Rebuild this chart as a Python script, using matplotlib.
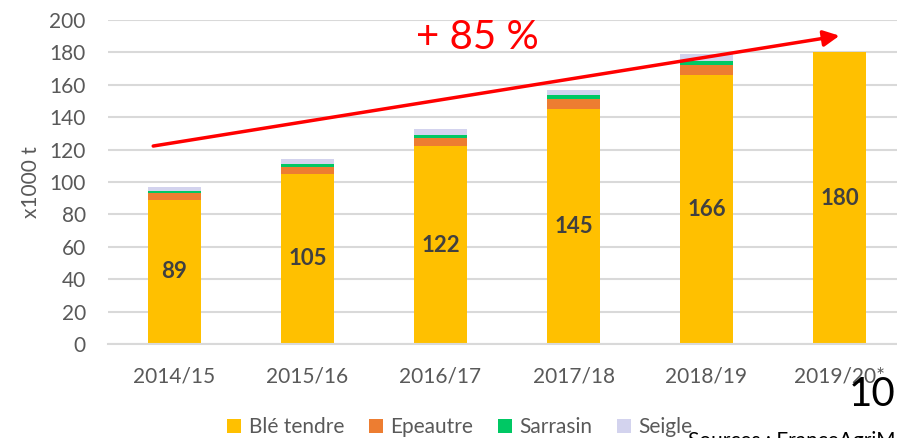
import numpy as np
import matplotlib.pyplot as plt

campagnes = ['2014/15', '2015/16', '2016/17', '2017/18', '2018/19', '2019/20*']
ble_tendre = [89, 105, 122, 145, 166, 180]
epeautre = [4, 4, 5, 6, 6, 0]
sarrasin = [1.5, 2, 2, 2.5, 2.7, 0]
seigle = [2.5, 3.5, 3.5, 3, 4.3, 0]

series = [
    ('Blé tendre', ble_tendre, '#FFC000'),
    ('Epeautre', epeautre, '#ED7D31'),
    ('Sarrasin', sarrasin, '#00C864'),
    ('Seigle', seigle, '#D3D3EE'),
]

plt.rcParams['font.family'] = ['Lato', 'DejaVu Sans']

fig = plt.figure(figsize=(8.97, 4.38), dpi=100)
ax = fig.add_axes([108 / 897, 94 / 438, 798 / 897, 324 / 438])

x = np.arange(len(campagnes))
bottom = np.zeros(len(campagnes))
for nom, vals, couleur in series:
    vals = np.array(vals, dtype=float)
    ax.bar(x, vals, 0.4, bottom=bottom, color=couleur, label=nom, zorder=2)
    bottom += vals

for xi, v in zip(x, ble_tendre):
    ax.text(xi, v / 2, str(v), ha='center', va='center', fontsize=16,
            fontweight='bold', color='#404040', zorder=3)

ax.set_xlim(-0.5, 5.5)
ax.set_ylim(0, 200)
ax.set_yticks(range(0, 201, 20))
ax.set_xticks(x)
ax.set_xticklabels(campagnes)
ax.tick_params(axis='both', length=0, labelsize=15, labelcolor='#595959')
ax.tick_params(axis='x', pad=16)
ax.tick_params(axis='y', pad=16)
ax.grid(axis='y', color='#D9D9D9', linewidth=1.5, zorder=0)
ax.set_axisbelow(True)
for s in ['top', 'right', 'left']:
    ax.spines[s].set_visible(False)
ax.spines['bottom'].set_color('#D9D9D9')
ax.spines['bottom'].set_linewidth(1.5)
ax.set_ylabel('x1000 t', fontsize=15, color='#595959', labelpad=6)

# fleche de tendance
ax.annotate('', xy=(5.0, 190.3), xytext=(-0.16, 122.2),
            arrowprops=dict(arrowstyle='-|>', color='#FF0000', lw=2.5,
                            mutation_scale=24, shrinkA=0, shrinkB=0),
            zorder=4)
ax.text(2.28, 189.5, '+ 85 %', color='#FF0000', fontsize=29,
        ha='center', va='center', zorder=4)

fig.legend(loc='center', bbox_to_anchor=(460 / 897, 1 - 427 / 438), ncol=4,
           frameon=False, fontsize=15, handlelength=0.67, handleheight=0.67,
           columnspacing=1.2, handletextpad=0.35, labelcolor='#595959',
           borderpad=0, borderaxespad=0)

fig.text(895 / 897, 1 - 395 / 438, '10', fontsize=29, color='black',
         ha='right', va='center')
fig.text(688 / 897, 1 - 431 / 438, 'Sources : FranceAgriMer', fontsize=15,
         color='black', ha='left', va='top')

fig.savefig('out.png', dpi=100)
